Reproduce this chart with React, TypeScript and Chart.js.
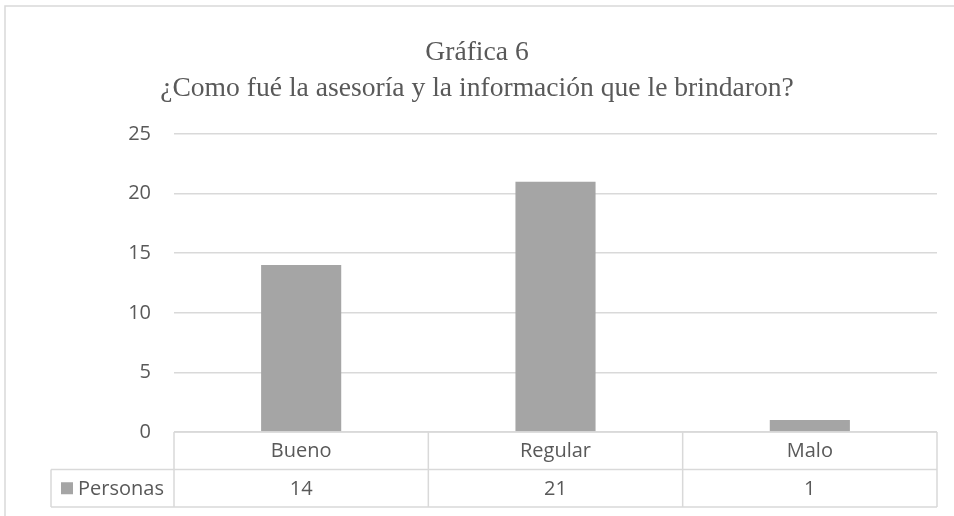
import React, { useEffect, useRef } from 'react';
import { Chart, registerables } from 'chart.js';

Chart.register(...registerables);

const titleLines = ['Gráfica 6', '¿Como fué la asesoría y la información que le brindaron?'];
const categories = ['Bueno', 'Regular', 'Malo'];
const seriesName = 'Personas';
const personas = [14, 21, 1];
const yMin = 0;
const yMax = 25;
const yStep = 5;

const GRID = '#d9d9d9';
const TEXT = '#595959';
const BAR = '#a5a5a5';
const SANS = '"Open Sans", "Noto Sans", sans-serif';

const framePlugin = {
  id: 'frame',
  beforeDraw(chart: any) {
    const { ctx } = chart;
    ctx.save();
    ctx.strokeStyle = GRID;
    ctx.lineWidth = 1.5;
    ctx.strokeRect(5, 6, 2000, 2000);
    ctx.restore();
  },
};

const tablePlugin = {
  id: 'dataTable',
  afterDraw(chart: any) {
    const { ctx, chartArea } = chart;
    const xs = chart.scales.x;
    const n = categories.length;
    const catW = (chartArea.right - chartArea.left) / n;
    const top = chartArea.bottom;
    const rowH = 37.5;
    const r1 = top + rowH;
    const r2 = top + 2 * rowH;
    const legendLeft = 51;
    const L = chartArea.left;
    const R = chartArea.right;
    const line = (x1: number, y1: number, x2: number, y2: number) => {
      ctx.beginPath();
      ctx.moveTo(x1, y1);
      ctx.lineTo(x2, y2);
      ctx.stroke();
    };
    ctx.save();
    ctx.strokeStyle = GRID;
    ctx.lineWidth = 1.5;
    line(L, top, R, top);
    line(legendLeft, r1, R, r1);
    line(legendLeft, r2, R, r2);
    line(legendLeft, r1, legendLeft, r2);
    for (let i = 0; i <= n; i++) {
      const x = L + i * catW;
      line(x, top, x, r2);
    }
    ctx.fillStyle = TEXT;
    ctx.font = `20px ${SANS}`;
    ctx.textAlign = 'center';
    ctx.textBaseline = 'middle';
    for (let i = 0; i < n; i++) {
      const cx = xs.getPixelForValue(i);
      ctx.fillText(categories[i], cx, top + rowH / 2 + 1);
      ctx.fillText(String(personas[i]), cx, r1 + rowH / 2 + 1);
    }
    // legend key
    ctx.fillStyle = BAR;
    ctx.fillRect(61, r1 + rowH / 2 - 6, 12, 12);
    ctx.fillStyle = TEXT;
    ctx.textAlign = 'left';
    ctx.fillText(seriesName, 78, r1 + rowH / 2 + 1);
    ctx.restore();
  },
};

export default function App() {
  const ref = useRef<HTMLCanvasElement | null>(null);
  useEffect(() => {
    if (!ref.current) return;
    const chart = new Chart(ref.current, {
      type: 'bar',
      data: {
        labels: categories,
        datasets: [
          {
            label: seriesName,
            data: personas,
            backgroundColor: BAR,
            borderWidth: 0,
            barPercentage: 0.315,
            categoryPercentage: 1,
          },
        ],
      },
      options: {
        responsive: false,
        animation: false,
        layout: { padding: { left: 17, right: 17, top: 0, bottom: 84 } },
        plugins: {
          legend: { display: false },
          tooltip: { enabled: false },
          title: {
            display: true,
            text: titleLines,
            color: TEXT,
            font: { family: '"Liberation Serif", "Times New Roman", serif', size: 27.6, weight: 'normal', lineHeight: 36 / 27.6 },
            padding: { top: 35, bottom: 27 },
          },
        },
        scales: {
          x: {
            display: false,
          },
          y: {
            min: yMin,
            max: yMax,
            afterFit(scale: any) {
              scale.width = 157;
            },
            ticks: {
              stepSize: yStep,
              color: TEXT,
              font: { family: SANS, size: 20 },
              padding: 23,
            },
            grid: { color: GRID, lineWidth: 1.5, drawTicks: false },
            border: { display: false },
          },
        },
      },
      plugins: [framePlugin, tablePlugin],
    });
    return () => chart.destroy();
  }, []);
  return (
    <div style={{ position: 'absolute', left: 0, top: 0, width: 954, height: 516, background: '#fff' }}>
      <canvas ref={ref} width={954} height={516} style={{ width: 954, height: 516, display: 'block' }} />
    </div>
  );
}
